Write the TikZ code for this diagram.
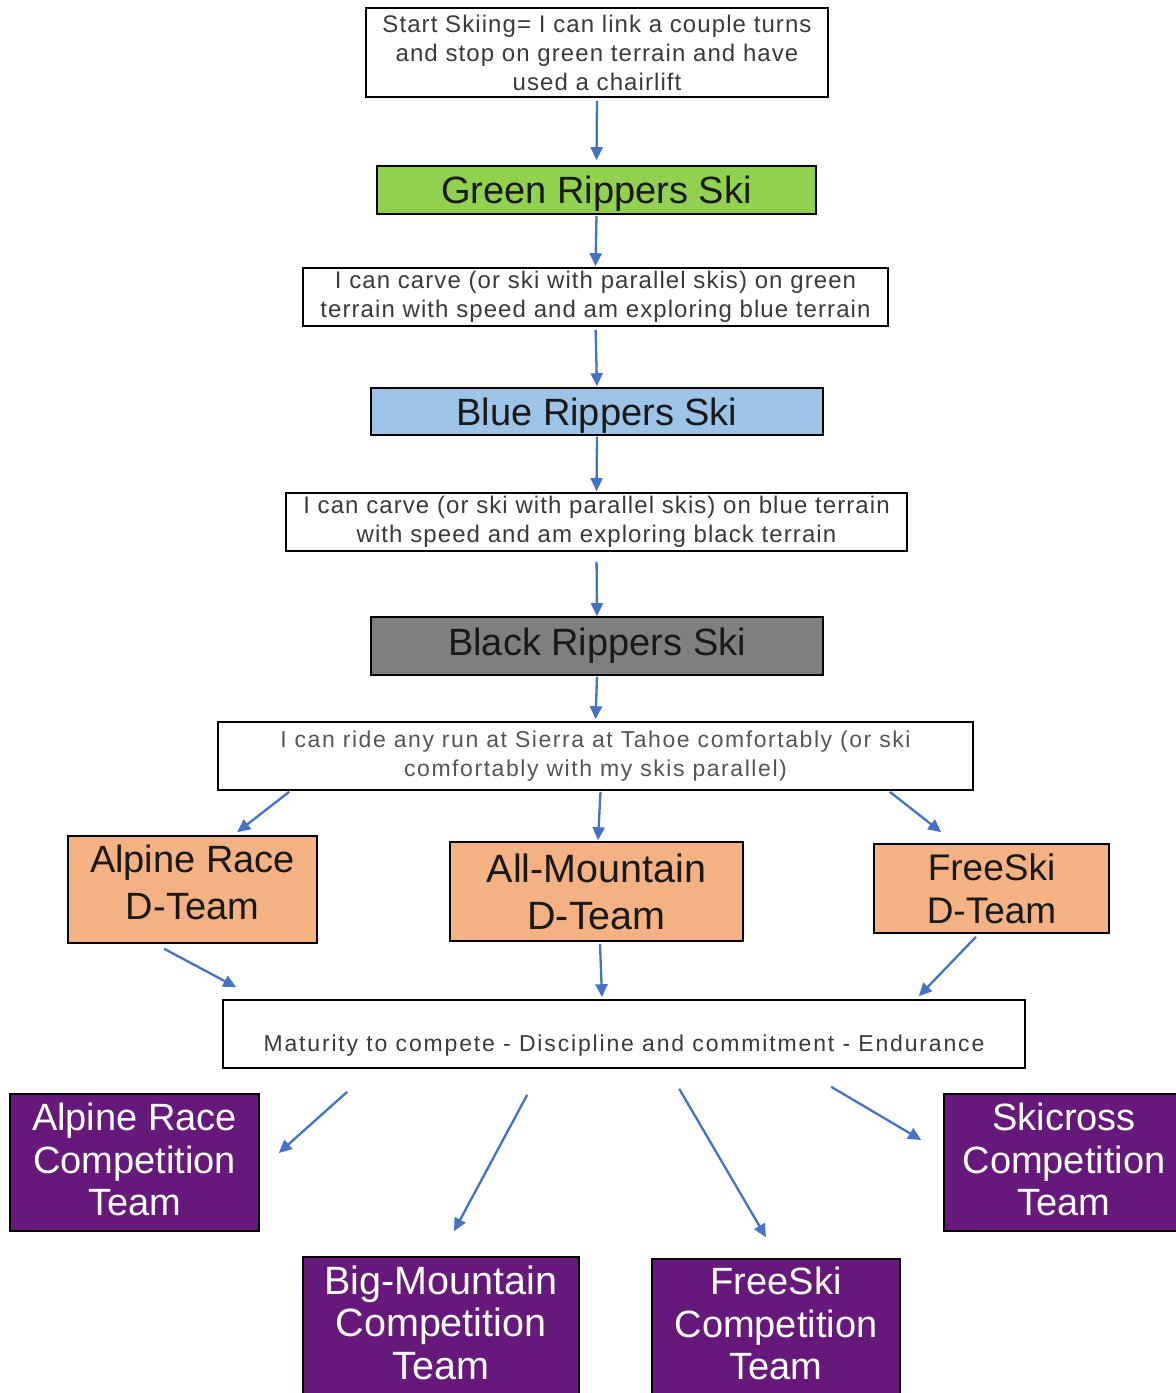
\documentclass[tikz,border=0pt]{standalone}
\usepackage{fontspec}
\setmainfont{Liberation Sans}
\newfontfamily\smallfont[LetterSpace=4.5]{Liberation Sans}
\newfontfamily\widefont[LetterSpace=6.8]{Liberation Sans}
\newfontfamily\widerfont[LetterSpace=8]{Liberation Sans}
\usetikzlibrary{arrows.meta}
\definecolor{textgray}{HTML}{3A3A3A}
\definecolor{lightgray}{HTML}{555555}
\definecolor{lvlgreen}{HTML}{92D050}
\definecolor{lvlblue}{HTML}{9DC3E6}
\definecolor{lvlblack}{HTML}{7F7F7F}
\definecolor{dorange}{HTML}{F4B183}
\definecolor{cpurple}{HTML}{66197A}
\definecolor{arrblue}{HTML}{4472C4}
\tikzset{
  box/.style={draw=black, line width=1.6pt, inner sep=0pt, align=center},
  note/.style={box, fill=white, text=textgray, font=\smallfont\fontsize{24}{29}\selectfont},
  level/.style={box, text=black!90, font=\fontsize{38}{42}\selectfont},
  dteam/.style={box, fill=dorange, text=black!90},
  comp/.style={box, fill=cpurple, text=white, font=\fontsize{38}{42.5}\selectfont},
  arr/.style={draw=arrblue, line width=2.3pt, -{Triangle[length=13pt,width=12pt]}}
}
\begin{document}
\begin{tikzpicture}[x=1pt,y=-1pt]
\clip (0,0) rectangle (1176,1393);
\fill[white] (0,0) rectangle (1176,1393);

\node[note, minimum width=462pt, minimum height=89pt] (start) at (597,52.5)
  {Start Skiing= I can link a couple turns\\and stop on green terrain and have\\used a chairlift};
\node[level, fill=lvlgreen, minimum width=439pt, minimum height=48pt, text height=33pt, text depth=6pt] (green) at (596.5,190) {Green Rippers Ski};
\node[note, minimum width=585pt, minimum height=58pt] (c1) at (595.5,297)
  {I can carve (or ski with parallel skis) on green\\terrain with speed and am exploring blue terrain};
\node[level, fill=lvlblue, minimum width=452pt, minimum height=47pt, text height=33pt, text depth=6pt] (blue) at (597,411.5) {Blue Rippers Ski};
\node[note, minimum width=621pt, minimum height=58pt] (c2) at (596.5,522)
  {I can carve (or ski with parallel skis) on blue terrain\\with speed and am exploring black terrain};
\node[level, fill=lvlblack, minimum width=452pt, minimum height=58pt] (black) at (597,646) {Black Rippers Ski};
\node[note, text=lightgray, font=\widefont\fontsize{23}{29}\selectfont, minimum width=755pt, minimum height=68pt] (c3) at (595.5,756)
  {I can ride any run at Sierra at Tahoe comfortably (or ski\\comfortably with my skis parallel)};

\node[dteam, font=\fontsize{38}{47}\selectfont, minimum width=249pt, minimum height=107pt] (dalp) at (192.5,889.5) {Alpine Race\\D-Team\rule[-14pt]{0pt}{1pt}};
\node[dteam, font=\fontsize{39.5}{47}\selectfont, minimum width=293pt, minimum height=99pt] (dall) at (596.5,891.5) {All-Mountain\\D-Team};
\node[dteam, font=\fontsize{37}{43}\selectfont, minimum width=235pt, minimum height=89pt] (dfree) at (991.5,888.5) {FreeSki\\D-Team};

\node[note, text=textgray, font=\widerfont\fontsize{23}{29}\selectfont, minimum width=802pt, minimum height=68pt,
  text height=34pt, text depth=0pt] (mat) at (624,1034)
  {Maturity to compete - Discipline and commitment - Endurance};

\node[comp, minimum width=249pt, minimum height=137pt] (palp) at (134.5,1162.5) {Alpine Race\\Competition\\Team\rule[-6pt]{0pt}{1pt}};
\node[comp, minimum width=240pt, minimum height=137pt] (pski) at (1064,1162.5) {Skicross\\Competition\\Team\rule[-6pt]{0pt}{1pt}};
\node[comp, font=\fontsize{39.5}{42.5}\selectfont, minimum width=276pt, minimum height=137pt] (pbig) at (441,1325.5) {Big-Mountain\\Competition\\Team\rule[-6pt]{0pt}{1pt}};
\node[comp, minimum width=248pt, minimum height=137pt] (pfree) at (776,1327.5) {FreeSki\\Competition\\Team\rule[-8pt]{0pt}{1pt}};

\draw[arr, shorten <=3pt, shorten >=5pt] (start.south) -- (green.north);
\draw[arr, shorten <=1pt, shorten >=1pt] (green.south) -- (c1.north);
\draw[arr, shorten <=3pt, shorten >=1pt] (c1.south) -- (blue.north);
\draw[arr, shorten <=1pt, shorten >=1pt] (blue.south) -- (c2.north);
\draw[arr, shorten <=10pt, shorten >=0pt] (c2.south) -- (black.north);
\draw[arr, shorten <=1pt, shorten >=2pt] (black.south) -- (c3.north);

\draw[arr] ([xshift=72pt,yshift=-1pt]c3.south west) -- ([xshift=170pt,yshift=3pt]dalp.north west);
\draw[arr] ([xshift=5pt,yshift=-1pt]c3.south) -- ([xshift=1.5pt,yshift=1pt]dall.north);
\draw[arr] ([xshift=-84pt,yshift=-1pt]c3.south east) -- ([xshift=68pt,yshift=11pt]dfree.north west);

\draw[arr] ([xshift=97pt,yshift=-5pt]dalp.south west) -- ([xshift=14pt,yshift=12pt]mat.north west);
\draw[arr] ([xshift=3.5pt,yshift=-2pt]dall.south) -- ([xshift=-22pt,yshift=2pt]mat.north);
\draw[arr] ([xshift=-15.5pt,yshift=-3pt]dfree.south) -- ([xshift=-107pt,yshift=3pt]mat.north east);

\draw[arr] ([xshift=125pt,yshift=-23pt]mat.south west) -- ([xshift=19pt,yshift=9.5pt]palp.east);
\draw[arr] ([xshift=305pt,yshift=-26pt]mat.south west) -- ([xshift=13pt,yshift=25pt]pbig.north);
\draw[arr] ([xshift=457pt,yshift=-20pt]mat.south west) -- ([xshift=-10pt,yshift=21pt]pfree.north);
\draw[arr] ([xshift=609pt,yshift=-18pt]mat.south west) -- ([xshift=-22pt,yshift=22.5pt]pski.west);
\end{tikzpicture}
\end{document}
